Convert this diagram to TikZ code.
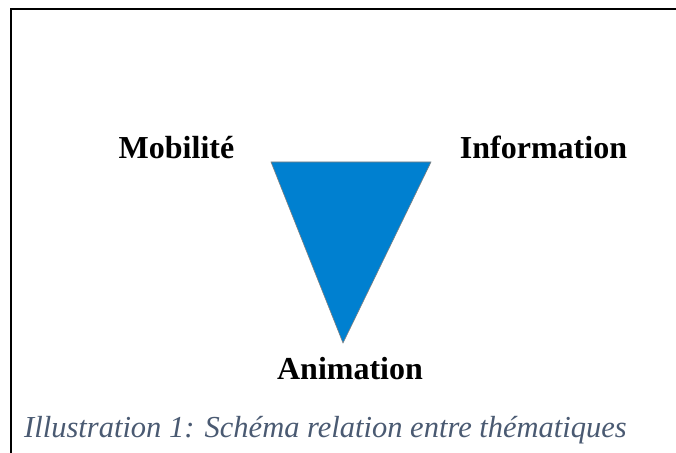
\documentclass[tikz,border=0pt]{standalone}
\usepackage{fontspec}
\setmainfont{Liberation Serif}
\begin{document}
\begin{tikzpicture}[x=1pt,y=1pt,
  label/.style={inner sep=0pt,anchor=base,font=\fontsize{32}{36}\selectfont\bfseries},
  captiontext/.style={inner sep=0pt,anchor=base west,font=\fontsize{30.5}{34}\selectfont\itshape,text=capcol},
  frameline/.style={line width=1.3pt,line cap=rect}]
\definecolor{tri}{HTML}{0080D0}
\definecolor{capcol}{HTML}{4A5A72}
\useasboundingbox (0,0) rectangle (676,452);
\fill[white] (0,0) rectangle (676,452);
\coordinate (fl) at (11,0);
\coordinate (fc) at (11,443);
\coordinate (fr) at (676,443);
\draw[frameline] (fl) -- (fc) -- (fr);
\coordinate (ta) at (271,290);
\coordinate (tb) at (431,290);
\coordinate (tc) at (343,109);
\filldraw[fill=tri,draw=gray,line width=0.6pt,line join=miter] (ta) -- (tb) -- (tc) -- cycle;
\node[label] (mob) at (176.5,293) {Mobilité};
\node[label] (inf) at (543.5,293) {Information};
\node[label] (ani) at (350,73) {Animation};
\node[captiontext] (cap) at (24,15) {Illustration 1: Schéma relation entre thématiques};
\end{tikzpicture}
\end{document}
